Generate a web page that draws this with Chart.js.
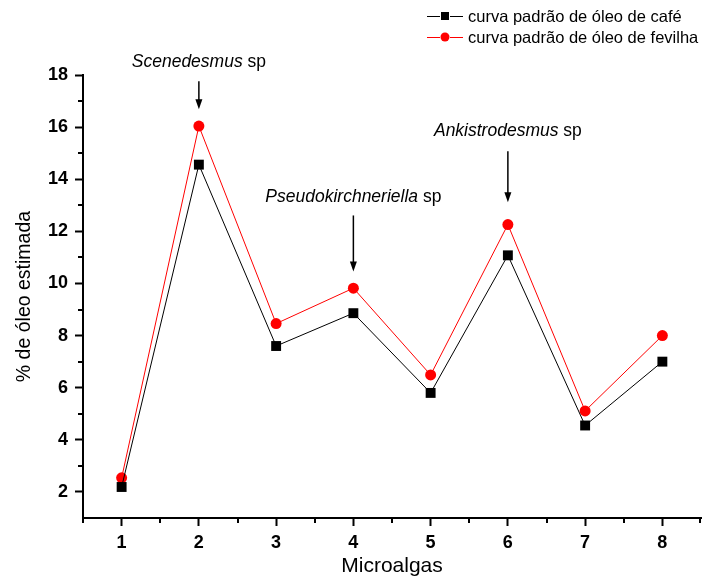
<!DOCTYPE html>
<html>
<head>
<meta charset="utf-8">
<script src="https://cdn.jsdelivr.net/npm/chart.js@4/dist/chart.umd.min.js"></script>
<style>
  html, body { margin: 0; padding: 0; background: #fff; }
  #wrap { width: 702px; height: 579px; }
</style>
</head>
<body>
<div id="wrap"><canvas id="chart" width="702" height="579"></canvas></div>
<script>
// microalgas -> x axis
const categories = [1, 2, 3, 4, 5, 6, 7, 8];
const cafe = [2.19, 14.56, 7.60, 8.86, 5.80, 11.08, 4.55, 7.00];
const fevilha = [2.54, 16.04, 8.46, 9.82, 6.49, 12.26, 5.11, 8.00];
const yTicks = [2, 4, 6, 8, 10, 12, 14, 16, 18];
const seriesNames = ['curva padrão de óleo de café', 'curva padrão de óleo de fevilha'];

// arrows pointing at the marked species
const species = ['Scenedesmus', 'Pseudokirchneriella', 'Ankistrodesmus'];
const speciesAt = [2, 4, 6];
const labelY = [18.5, 13.3, 15.84];
const arrowTop = [17.76, 12.61, 15.07];
const arrowTip = [16.69, 10.46, 13.12];

const FONT = "'Liberation Sans', Arial, sans-serif";

const extras = {
  id: 'extras',
  afterDraw(chart) {
    const ctx = chart.ctx;
    const x = chart.scales.x, y = chart.scales.y;
    const area = chart.chartArea;
    ctx.save();
    ctx.strokeStyle = '#000';
    ctx.lineWidth = 2;
    // minor ticks
    for (let v = 0.5; v <= 8.5; v += 1) {
      const px = Math.min(Math.round(x.getPixelForValue(v)), area.right - 1);
      ctx.beginPath();
      ctx.moveTo(px, area.bottom);
      ctx.lineTo(px, area.bottom + 5);
      ctx.stroke();
    }
    for (let v = 3; v < 18; v += 2) {
      const py = Math.round(y.getPixelForValue(v));
      ctx.beginPath();
      ctx.moveTo(area.left, py);
      ctx.lineTo(area.left - 5, py);
      ctx.stroke();
    }

    // annotations
    ctx.fillStyle = '#000';
    ctx.textBaseline = 'middle';
    species.forEach((name, i) => {
      const cx = x.getPixelForValue(speciesAt[i]);
      ctx.font = 'italic 17.5px ' + FONT;
      const w1 = ctx.measureText(name).width;
      ctx.font = '17.5px ' + FONT;
      const w2 = ctx.measureText(' sp').width;
      const start = cx - (w1 + w2) / 2;
      const ty = y.getPixelForValue(labelY[i]);
      ctx.textAlign = 'left';
      ctx.font = 'italic 17.5px ' + FONT;
      ctx.fillText(name, start, ty);
      ctx.font = '17.5px ' + FONT;
      ctx.fillText(' sp', start + w1, ty);

      const top = y.getPixelForValue(arrowTop[i]);
      const tip = y.getPixelForValue(arrowTip[i]);
      ctx.lineWidth = 1.5;
      ctx.beginPath();
      ctx.moveTo(cx, top);
      ctx.lineTo(cx, tip - 8);
      ctx.stroke();
      ctx.beginPath();
      ctx.moveTo(cx - 3.5, tip - 10);
      ctx.lineTo(cx + 3.5, tip - 10);
      ctx.lineTo(cx, tip);
      ctx.closePath();
      ctx.fill();
    });

    // legend
    const colors = ['#000', '#ff0000'];
    const rows = [16, 37];
    ctx.font = '16.5px ' + FONT;
    ctx.textAlign = 'left';
    rows.forEach((ry, i) => {
      ctx.strokeStyle = colors[i];
      ctx.fillStyle = colors[i];
      ctx.lineWidth = 1;
      ctx.beginPath();
      ctx.moveTo(427, ry + 0.5);
      ctx.lineTo(440, ry + 0.5);
      ctx.moveTo(450, ry + 0.5);
      ctx.lineTo(463, ry + 0.5);
      ctx.stroke();
      ctx.beginPath();
      if (i === 0) {
        ctx.rect(441, ry - 4, 8, 8);
      } else {
        ctx.arc(445, ry, 4.5, 0, Math.PI * 2);
      }
      ctx.fill();
      ctx.fillStyle = '#000';
      ctx.fillText(seriesNames[i], 468, ry + 1);
    });
    ctx.restore();
  }
};

const data = {
  datasets: [{
    label: seriesNames[0],
    data: categories.map((c, i) => ({ x: c, y: cafe[i] })),
    borderColor: '#000',
    backgroundColor: '#000',
    borderWidth: 1,
    pointStyle: 'rect',
    pointRadius: 7,
    pointBorderWidth: 0,
    tension: 0
  }, {
    label: seriesNames[1],
    data: categories.map((c, i) => ({ x: c, y: fevilha[i] })),
    borderColor: '#ff0000',
    backgroundColor: '#ff0000',
    borderWidth: 1,
    pointStyle: 'circle',
    pointRadius: 5.5,
    pointBorderWidth: 0,
    tension: 0
  }]
};

const config = {
  type: 'line',
  data: data,
  options: {
    responsive: false,
    animation: false,
    layout: { autoPadding: false, padding: { top: 75, right: 1, left: 0, bottom: 0 } },
    plugins: {
      legend: { display: false },
      tooltip: { enabled: false }
    },
    scales: {
      x: {
        type: 'linear',
        min: 0.5,
        max: 8.5,
        afterBuildTicks: (s) => { s.ticks = categories.map(v => ({ value: v })); },
        afterFit: (s) => { s.height = 61; s.paddingLeft = 0; s.paddingRight = 0; },
        border: { display: true, color: '#000', width: 2 },
        grid: { drawOnChartArea: false, drawTicks: true, tickLength: 8, tickWidth: 2, tickColor: '#000' },
        ticks: { color: '#000', padding: 6, font: { family: FONT, size: 18, weight: 'bold' } },
        title: { display: true, text: 'Microalgas', color: '#000', padding: { top: 0, bottom: 0 }, font: { family: FONT, size: 21 } }
      },
      y: {
        min: 1,
        max: 18,
        afterBuildTicks: (s) => { s.ticks = yTicks.map(v => ({ value: v })); },
        afterFit: (s) => { s.width = 83; },
        border: { display: true, color: '#000', width: 2 },
        grid: { drawOnChartArea: false, drawTicks: true, tickLength: 8, tickWidth: 2, tickColor: '#000' },
        ticks: { color: '#000', padding: 7, font: { family: FONT, size: 18, weight: 'bold' } },
        title: { display: true, text: '% de óleo estimada', color: '#000', padding: { top: 13, bottom: 0 }, font: { family: FONT, size: 19.5 } }
      }
    }
  },
  plugins: [extras]
};

var myChart = new Chart(document.getElementById('chart').getContext('2d'), config);
</script>
</body>
</html>
